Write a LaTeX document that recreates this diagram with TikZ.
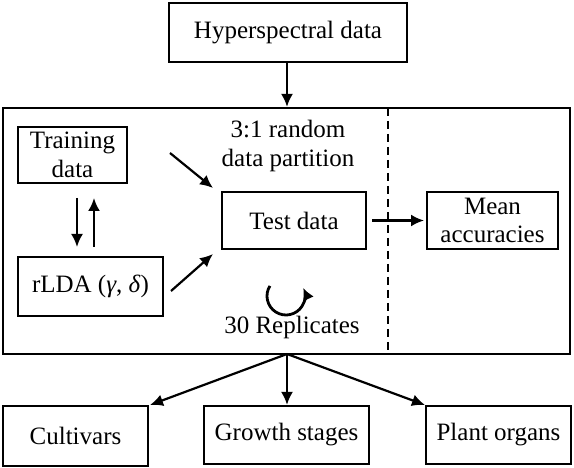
\documentclass[tikz,border=0pt]{standalone}
\usepackage{fontspec}
\setmainfont{Liberation Serif}
\usetikzlibrary{arrows.meta}
\begin{document}
\begin{tikzpicture}[x=1pt,y=-1pt,
  box/.style={draw, line width=2.2pt, inner sep=0pt, align=center,
    font=\fontsize{25}{28.5}\selectfont},
  lbl/.style={inner sep=0pt, align=center, font=\fontsize{25}{28.5}\selectfont},
  arr/.style={line width=2.2pt, -{Latex[length=13pt,width=12pt]}}]
\useasboundingbox (0,0) rectangle (574,468);
% boxes
\node[box, minimum width=238pt, minimum height=59pt] (hyper) at (288,32.5) {Hyperspectral data};
\node[box, minimum width=567pt, minimum height=246pt] (main) at (286.5,231) {};
\node[box, minimum width=109pt, minimum height=56pt] (train) at (72.5,155) {Training\\data};
\node[box, minimum width=145pt, minimum height=59pt] (rlda) at (90.5,286.5) {rLDA (\textit{γ}, \textit{δ})};
\node[box, minimum width=144pt, minimum height=57pt] (test) at (294,220.5) {Test data};
\node[box, minimum width=131pt, minimum height=57pt] (mean) at (492.5,220.5) {Mean\\accuracies};
\node[lbl] (part) at (288,146) {3:1 random\\data partition};
\node[lbl] (rep) at (292,327) {30 Replicates};
\node[box, minimum width=145pt, minimum height=60pt] (cult) at (75.5,436) {Cultivars};
\node[box, minimum width=165pt, minimum height=58pt] (grow) at (286.5,435) {Growth stages};
\node[box, minimum width=145pt, minimum height=58pt] (plant) at (498.5,435) {Plant organs};
% dashed divider
\coordinate (dtop) at (388,108);
\coordinate (dbot) at (388,354);
\draw[line width=1.6pt, dash pattern=on 8pt off 5pt] (dtop) -- (dbot);
% free arrow ends
\coordinate (a1s) at (77,198); \coordinate (a1e) at (77,247);
\coordinate (a2s) at (94,247); \coordinate (a2e) at (94,198);
\coordinate (t1s) at (170,153); \coordinate (t1e) at (213,188);
\coordinate (r1s) at (171,291); \coordinate (r1e) at (213,254);
\coordinate (m1s) at (372,220.5); \coordinate (m1e) at (424,220.5);
\coordinate (j) at (287,354);
\coordinate (ce) at (150,405);
\coordinate (pe) at (425,405);
% arrows
\draw[arr] (hyper.south -| j) -- (j |- main.north);
\draw[arr] (a1s) -- (a1e);
\draw[arr] (a2s) -- (a2e);
\draw[arr] (t1s) -- (t1e);
\draw[arr] (r1s) -- (r1e);
\draw[arr] (m1s) -- (m1e);
\draw[arr] (j) -- (ce);
\draw[arr] (j) -- (j |- grow.north);
\draw[arr] (j) -- (pe);
% replicate loop
\coordinate (loopc) at (286,296);
\draw[line width=2.8pt, -{Latex[length=12pt,width=12pt]}] ([shift={(212:19)}]loopc) arc[start angle=212, end angle=-25, radius=19];
\end{tikzpicture}
\end{document}
